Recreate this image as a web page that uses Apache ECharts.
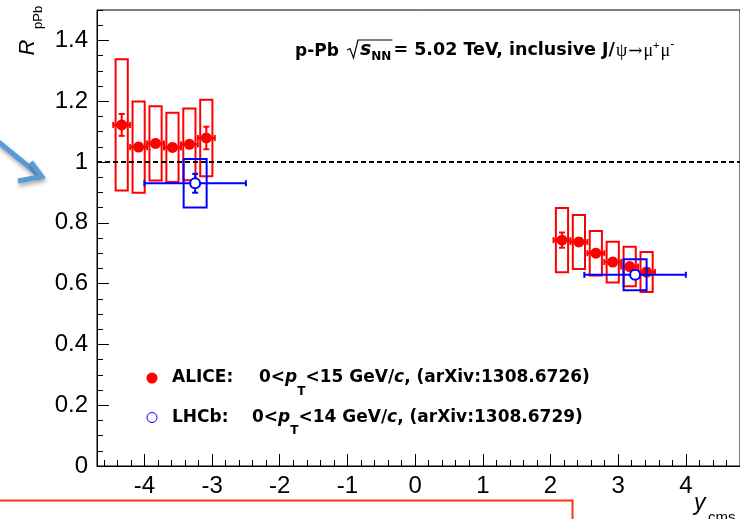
<!DOCTYPE html>
<html>
<head>
<meta charset="utf-8">
<script src="https://cdn.jsdelivr.net/npm/echarts@6/dist/echarts.min.js"></script>
<style>
  html, body { margin: 0; padding: 0; background: #fff; }
  #chart { width: 740px; height: 519px; }
</style>
</head>
<body>
<div id="chart"></div>
<script>
// ALICE inclusive J/psi R_pPb in rapidity bins (backward and forward)
const aliceYcms = [-4.335, -4.085, -3.835, -3.585, -3.335, -3.085, 2.17, 2.42, 2.67, 2.92, 3.17, 3.42];
const aliceRpPb = [1.122, 1.049, 1.061, 1.048, 1.058, 1.079, 0.743, 0.737, 0.700, 0.671, 0.656, 0.638];
const aliceStat = [0.036, 0.012, 0.012, 0.012, 0.012, 0.037, 0.025, 0.012, 0.012, 0.012, 0.012, 0.012];
const aliceSyst = [0.216, 0.150, 0.122, 0.114, 0.118, 0.126, 0.106, 0.089, 0.073, 0.067, 0.065, 0.066];
const aliceBinHalfWidth = 0.125;

// LHCb inclusive J/psi R_pPb (one wide bin per side)
const lhcbYcms = [-3.25, 3.25];
const lhcbYLow = [-4.0, 2.5];
const lhcbYHigh = [-2.5, 4.0];
const lhcbRpPb = [0.930, 0.629];
const lhcbStat = [0.031, 0.010];
const lhcbSyst = [0.080, 0.051];

// Axis ticks
const xTickValues = [-4, -3, -2, -1, 0, 1, 2, 3, 4];
const yTickValues = [0, 0.2, 0.4, 0.6, 0.8, 1, 1.2, 1.4];
const yTickLabels = ['0', '0.2', '0.4', '0.6', '0.8', '1', '1.2', '1.4'];

const RED = '#ff0000';
const BLUE = '#0000ff';
const X_MIN = -4.7, X_MAX = 4.8, Y_MIN = 0, Y_MAX = 1.5;
const ALICE_BOX_HW = 0.09;   // half-width of systematic boxes (rapidity units)
const LHCB_BOX_HW = 0.17;
const CAP = 3;               // error-bar end size, px

// minor tick positions
const xMinor = [];
for (let k = -23; k <= 24; k++) { if (k % 5 !== 0) xMinor.push(k / 5); }
const yMinor = [];
for (let k = 1; k <= 30; k++) { if (k % 4 !== 0) yMinor.push(k / 20); }

const aliceBoxData = aliceYcms.map((x, i) => [x, aliceRpPb[i], aliceSyst[i]]);
const aliceErrData = aliceYcms.map((x, i) => [x, aliceRpPb[i], x - aliceBinHalfWidth, x + aliceBinHalfWidth, aliceStat[i]]);
const aliceDots = aliceYcms.map((x, i) => [x, aliceRpPb[i]]);
const lhcbBoxData = lhcbYcms.map((x, i) => [x, lhcbRpPb[i], lhcbSyst[i]]);
const lhcbErrData = lhcbYcms.map((x, i) => [x, lhcbRpPb[i], lhcbYLow[i], lhcbYHigh[i], lhcbStat[i]]);
const lhcbDots = lhcbYcms.map((x, i) => [x, lhcbRpPb[i]]);

function boxRenderer(color, hw) {
  return function (params, api) {
    const x = api.value(0), y = api.value(1), s = api.value(2);
    const p1 = api.coord([x - hw, y + s]);
    const p2 = api.coord([x + hw, y - s]);
    return {
      type: 'rect',
      shape: { x: p1[0], y: p1[1], width: p2[0] - p1[0], height: p2[1] - p1[1] },
      style: { fill: 'none', stroke: color, lineWidth: 2 }
    };
  };
}

function errRenderer(color) {
  return function (params, api) {
    const x = api.value(0), y = api.value(1);
    const c = api.coord([x, y]);
    const l = api.coord([api.value(2), y]);
    const r = api.coord([api.value(3), y]);
    const t = api.coord([x, y + api.value(4)]);
    const b = api.coord([x, y - api.value(4)]);
    const st = { stroke: color, lineWidth: 2 };
    const seg = (x1, y1, x2, y2) => ({ type: 'line', shape: { x1, y1, x2, y2 }, style: st });
    return {
      type: 'group',
      children: [
        seg(l[0], c[1], r[0], c[1]),
        seg(l[0], c[1] - CAP, l[0], c[1] + CAP),
        seg(r[0], c[1] - CAP, r[0], c[1] + CAP),
        seg(c[0], t[1], c[0], b[1]),
        seg(c[0] - CAP, t[1], c[0] + CAP, t[1]),
        seg(c[0] - CAP, b[1], c[0] + CAP, b[1])
      ]
    };
  };
}

// text runs laid out left to right, positioned by baseline
const measureCtx = document.createElement('canvas').getContext('2d');
function textRuns(x0, baseY, runs) {
  let x = x0;
  const out = [];
  runs.forEach(r => {
    measureCtx.font = r.font;
    const w = measureCtx.measureText(r.t).width;
    x += (r.dx || 0);
    out.push({
      type: 'text', x: x, y: baseY + (r.dy || 0) - 0.346 * r.size,
      style: { text: r.t, font: r.font, fill: '#000', align: 'left', verticalAlign: 'middle' }
    });
    r.x0 = x; r.x1 = x + w;
    x += w;
  });
  return out;
}

const TITLE_FONT = "bold 17.5px 'DejaVu Sans'";
const titleLeft = textRuns(295, 57, [{ t: 'p-Pb', font: "bold 17px 'DejaVu Sans'", size: 17 }]);
const rootRuns = [
  { t: 's', font: "italic bold 19px 'DejaVu Sans'", size: 19 },
  { t: 'NN', font: "bold 12px 'DejaVu Sans'", size: 12, dy: 4 }
];
const titleRoot = textRuns(360, 57, rootRuns);
const overbarEnd = rootRuns[1].x1 + 1;
const restRuns = [
  { t: '= 5.02 TeV, inclusive J/', font: TITLE_FONT, size: 17.5, dx: 1 },
  { t: 'ψ', font: "18px 'Liberation Serif'", size: 18, dx: 1 },
  { t: '→', font: "17px 'DejaVu Serif'", size: 17, dx: 1 },
  { t: 'μ', font: "18px 'Liberation Serif'", size: 18, dx: 1 },
  { t: '+', font: "11px 'Liberation Sans'", size: 11, dy: -7 },
  { t: 'μ', font: "18px 'Liberation Serif'", size: 18, dx: 1 },
  { t: '-', font: "12px 'Liberation Sans'", size: 12, dy: -8 }
];
const titleRest = textRuns(overbarEnd, 57, restRuns);

const graphics = [].concat(
  titleLeft, titleRoot, titleRest,
  [
    { type: 'polyline', shape: { points: [[347, 50], [350, 48.5], [353.5, 58], [358, 40], [overbarEnd, 40]] },
      style: { stroke: '#000', lineWidth: 1.2, fill: null } },
    // y-axis title R_pPb
    { type: 'text', x: 27.7, y: 55.5, rotation: Math.PI / 2,
      style: { text: 'R', font: "italic 22px 'Liberation Sans'", fill: '#000', align: 'left', verticalAlign: 'middle' } },
    { type: 'text', x: 38.5, y: 29, rotation: Math.PI / 2,
      style: { text: 'pPb', font: "13px 'Liberation Sans'", fill: '#000', align: 'left', verticalAlign: 'middle' } },
    // x-axis title y_cms
    { type: 'text', x: 694, y: 512 - 0.346 * 23,
      style: { text: 'y', font: "italic 23px 'Liberation Sans'", fill: '#000', align: 'left', verticalAlign: 'middle' } },
    { type: 'text', x: 708, y: 523 - 0.346 * 15,
      style: { text: 'cms', font: "15px 'Liberation Sans'", fill: '#000', align: 'left', verticalAlign: 'middle' } },
    // red frame at the bottom
    { type: 'polyline', shape: { points: [[-2, 500.5], [572.5, 500.5], [572.5, 530]] },
      style: { stroke: '#ff3311', lineWidth: 2, fill: null } },
    // blue pointer arrow
    { type: 'polyline', shape: { points: [[-4, 140], [39, 175]] },
      style: { stroke: '#5b9bd5', lineWidth: 5, fill: null, shadowBlur: 4, shadowOffsetX: 1, shadowOffsetY: 3, shadowColor: 'rgba(0,0,0,0.35)' } },
    { type: 'polyline', shape: { points: [[31, 162], [41.5, 176.5], [18, 181]] },
      style: { stroke: '#5b9bd5', lineWidth: 5, fill: null, lineJoin: 'miter', shadowBlur: 4, shadowOffsetX: 1, shadowOffsetY: 3, shadowColor: 'rgba(0,0,0,0.35)' } }
  ]
);

const richBase = { fontFamily: 'DejaVu Sans', fontWeight: 'bold', fontSize: 17, color: '#000', lineHeight: 39, verticalAlign: 'middle' };
const legendRich = {
  h1: Object.assign({}, richBase, { width: 87 }),
  h2: Object.assign({}, richBase, { width: 80 }),
  m: Object.assign({}, richBase),
  i: Object.assign({}, richBase, { fontStyle: 'italic' }),
  s: { fontFamily: 'DejaVu Sans', fontWeight: 'bold', fontSize: 12, color: '#000', lineHeight: 14, verticalAlign: 'bottom' }
};

const axisFont = { fontFamily: 'Liberation Sans', fontSize: 24, color: '#000' };

const option = {
  animation: false,
  backgroundColor: '#fff',
  grid: { left: 97, top: 10, width: (X_MAX - X_MIN) * 68.4, height: 456, show: true, borderColor: '#000', borderWidth: 1, containLabel: false },
  xAxis: [
    {
      type: 'value', min: X_MIN, max: X_MAX, position: 'bottom',
      axisLine: { show: true, onZero: false, lineStyle: { color: '#000', width: 1 } },
      axisTick: { show: true, inside: true, length: 12, customValues: xTickValues, lineStyle: { color: '#000' } },
      axisLabel: Object.assign({ customValues: xTickValues, margin: 8, formatter: v => String(v) }, axisFont),
      splitLine: { show: false }
    },
    {
      type: 'value', min: X_MIN, max: X_MAX, position: 'bottom',
      axisLine: { show: false, onZero: false },
      axisTick: { show: true, inside: true, length: 6, customValues: xMinor, lineStyle: { color: '#000' } },
      axisLabel: { show: false },
      splitLine: { show: false }
    }
  ],
  yAxis: [
    {
      type: 'value', min: Y_MIN, max: Y_MAX, position: 'left',
      axisLine: { show: true, onZero: false, lineStyle: { color: '#000', width: 1 } },
      axisTick: { show: true, inside: true, length: 12, customValues: yTickValues, lineStyle: { color: '#000' } },
      axisLabel: Object.assign({ customValues: yTickValues, margin: 9,
        formatter: v => yTickLabels[yTickValues.findIndex(t => Math.abs(t - v) < 1e-9)] }, axisFont),
      splitLine: { show: false }
    },
    {
      type: 'value', min: Y_MIN, max: Y_MAX, position: 'left',
      axisLine: { show: false, onZero: false },
      axisTick: { show: true, inside: true, length: 6, customValues: yMinor, lineStyle: { color: '#000' } },
      axisLabel: { show: false },
      splitLine: { show: false }
    }
  ],
  legend: [
    {
      left: 146.5, top: 369.5, padding: 0, itemWidth: 30, itemHeight: 11, selectedMode: false,
      data: [{ name: 'ALICE', icon: 'circle', itemStyle: { color: RED, borderWidth: 0, opacity: 1 } }],
      formatter: () => '{h1|ALICE:}{m|0<}{i|p}{s|T}{m|<15 GeV/}{i|c}{m|, (arXiv:1308.6726)}',
      textStyle: { rich: legendRich }
    },
    {
      left: 146.5, top: 409, padding: 0, itemWidth: 30, itemHeight: 10, selectedMode: false,
      data: [{ name: 'LHCb', icon: 'circle', itemStyle: { color: '#fff', borderColor: BLUE, borderWidth: 1 } }],
      formatter: () => '{h2|LHCb:}{m|0<}{i|p}{s|T}{m|<14 GeV/}{i|c}{m|, (arXiv:1308.6729)}',
      textStyle: { rich: legendRich }
    }
  ],
  graphic: graphics,
  series: [
    {
      name: 'ALICE syst', type: 'custom', z: 1, data: aliceBoxData,
      encode: { x: 0, y: 1 }, renderItem: boxRenderer(RED, ALICE_BOX_HW), silent: true
    },
    {
      name: 'ALICE stat', type: 'custom', z: 2, data: aliceErrData,
      encode: { x: [0, 2, 3], y: 1 }, renderItem: errRenderer(RED), silent: true
    },
    {
      name: 'ALICE', type: 'scatter', z: 3, data: aliceDots, symbol: 'circle', symbolSize: 11,
      itemStyle: { color: RED, opacity: 1 }, silent: true,
      markLine: {
        silent: true, symbol: ['none', 'none'], label: { show: false },
        lineStyle: { color: '#000', type: [5, 3], width: 2 },
        data: [{ yAxis: 1 }]
      }
    },
    {
      name: 'LHCb syst', type: 'custom', z: 4, data: lhcbBoxData,
      encode: { x: 0, y: 1 }, renderItem: boxRenderer(BLUE, LHCB_BOX_HW), silent: true
    },
    {
      name: 'LHCb stat', type: 'custom', z: 5, data: lhcbErrData,
      encode: { x: [0, 2, 3], y: 1 }, renderItem: errRenderer(BLUE), silent: true
    },
    {
      name: 'LHCb', type: 'scatter', z: 6, data: lhcbDots, symbol: 'circle', symbolSize: 10,
      itemStyle: { color: '#fff', borderColor: BLUE, borderWidth: 2, opacity: 1 }, silent: true
    }
  ]
};

const chart = echarts.init(document.getElementById('chart'), null, { renderer: 'canvas' });
chart.setOption(option);
</script>
</body>
</html>
